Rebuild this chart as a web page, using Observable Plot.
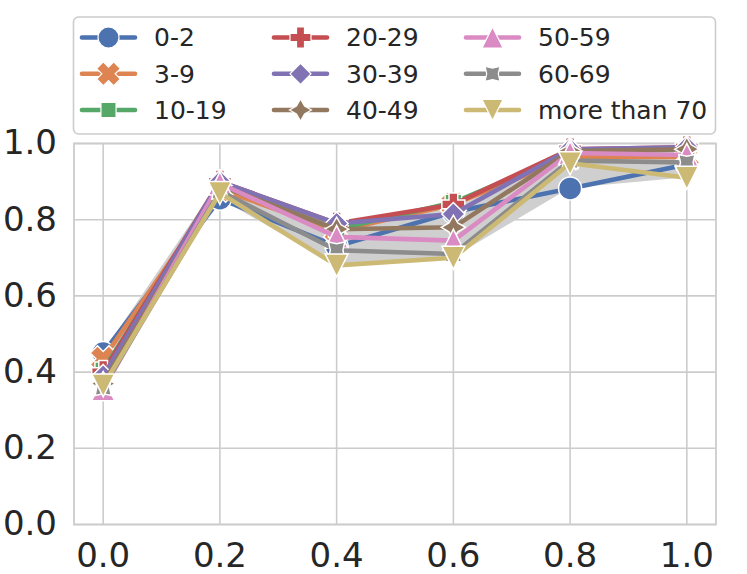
<!DOCTYPE html>
<html>
<head>
<meta charset="utf-8">
<script src="https://cdn.jsdelivr.net/npm/d3@7"></script>
<script src="https://cdn.jsdelivr.net/npm/@observablehq/plot@0.6"></script>
<style>
  html, body { margin: 0; padding: 0; background: #fff; }
  #chart { width: 747px; height: 574px; }
</style>
</head>
<body>
<div id="chart"></div>
<script>
// ---- data ----
const xValues = [0, 0.2, 0.4, 0.6, 0.8, 1.0];
const xTicks = [0, 0.2, 0.4, 0.6, 0.8, 1.0];
const yTicks = [0, 0.2, 0.4, 0.6, 0.8, 1.0];
const seriesLabels = ["0-2", "3-9", "10-19", "20-29", "30-39", "40-49", "50-59", "60-69", "more than 70"];
const seriesColors = ["#4C72B0", "#DD8452", "#55A868", "#C44E52", "#8172B3", "#937860", "#DA8BC3", "#8C8C8C", "#CCB974"];
const age0_2   = [0.450, 0.855, 0.730, 0.820, 0.882, 0.945];
const age3_9   = [0.435, 0.880, 0.770, 0.840, 0.965, 0.965];
const age10_19 = [0.405, 0.890, 0.775, 0.845, 0.975, 0.985];
const age20_29 = [0.400, 0.900, 0.790, 0.840, 0.985, 0.990];
const age30_39 = [0.390, 0.900, 0.790, 0.815, 0.985, 0.990];
const age40_49 = [0.370, 0.890, 0.775, 0.780, 0.980, 0.985];
const age50_59 = [0.355, 0.895, 0.755, 0.745, 0.975, 0.970];
const age60_69 = [0.360, 0.875, 0.720, 0.710, 0.955, 0.950];
const age70    = [0.365, 0.870, 0.680, 0.700, 0.948, 0.910];
const seriesValues = [age0_2, age3_9, age10_19, age20_29, age30_39, age40_49, age50_59, age60_69, age70];

// ---- custom marker shapes (seaborn default markers) ----
function poly(ctx, pts) {
  ctx.moveTo(pts[0][0], pts[0][1]);
  for (let i = 1; i < pts.length; i++) ctx.lineTo(pts[i][0], pts[i][1]);
  ctx.closePath();
}
const rad = (size) => Math.sqrt(size / Math.PI);
function plusPts(a, w) {
  return [[w,-a],[w,-w],[a,-w],[a,w],[w,w],[w,a],[-w,a],[-w,w],[-a,w],[-a,-w],[-w,-w],[-w,-a]];
}
function rot(pts, deg) {
  const t = deg * Math.PI / 180, c = Math.cos(t), s = Math.sin(t);
  return pts.map(([x, y]) => [x * c - y * s, x * s + y * c]);
}
function starPts(r, inner, offDeg) {
  const pts = [];
  for (let i = 0; i < 8; i++) {
    const rr = i % 2 === 0 ? r : r * inner;
    const t = (offDeg + i * 45 - 90) * Math.PI / 180;
    pts.push([rr * Math.cos(t), rr * Math.sin(t)]);
  }
  return pts;
}
const symX = { draw(ctx, size) { const r = rad(size); poly(ctx, rot(plusPts(r * 1.15, r * 0.45), 45)); } };
const symSquare = { draw(ctx, size) { const h = rad(size) * 0.72; poly(ctx, [[-h,-h],[h,-h],[h,h],[-h,h]]); } };
const symPlus = { draw(ctx, size) { const r = rad(size); poly(ctx, plusPts(r, r * 0.38)); } };
const symDiamond = { draw(ctx, size) { const r = rad(size); poly(ctx, [[0,-r],[r,0],[0,r],[-r,0]]); } };
const symStar = { draw(ctx, size) { const r = rad(size); poly(ctx, starPts(r * 1.05, 0.52, 0)); } };
const symTriUp = { draw(ctx, size) { const r = rad(size); poly(ctx, [[0,-r],[r,r],[-r,r]]); } };
const symStar45 = { draw(ctx, size) { const r = rad(size); poly(ctx, starPts(r * 1.0, 0.55, 45)); } };
const symTriDown = { draw(ctx, size) { const r = rad(size); poly(ctx, [[0,r],[r,-r],[-r,-r]]); } };
const seriesSymbols = [d3.symbolCircle, symX, symSquare, symPlus, symDiamond, symStar, symTriUp, symStar45, symTriDown];

// ---- tables ----
const rows = seriesLabels.map((label, i) => xValues.map((x, j) => ({ series: label, x, y: seriesValues[i][j] })));
const band = xValues.map((x, j) => ({
  x,
  lo: d3.min(seriesValues, (s) => s[j]),
  hi: d3.max(seriesValues, (s) => s[j])
}));

const gridColor = "#cccccc";
const markR = 11.5;

const chart = Plot.plot({
  width: 747,
  height: 574,
  marginLeft: 73.5,
  marginRight: 31.5,
  marginTop: 143,
  marginBottom: 50,
  style: { fontFamily: "'DejaVu Sans', sans-serif", fontSize: "34px", color: "#262626", background: "#fff" },
  x: { domain: [-0.05, 1.05], ticks: xTicks, label: null },
  y: { domain: [0, 1], ticks: yTicks, label: null },
  marks: [
    Plot.gridX(xTicks, { stroke: gridColor, strokeOpacity: 1, strokeWidth: 1.6 }),
    Plot.gridY(yTicks, { stroke: gridColor, strokeOpacity: 1, strokeWidth: 1.6 }),
    Plot.frame({ stroke: gridColor, strokeWidth: 1.8 }),
    Plot.areaY(band, { x: "x", y1: "lo", y2: "hi", fill: "#cfcfcf", fillOpacity: 1 }),
    ...rows.flatMap((data, i) => [
      Plot.line(data, { x: "x", y: "y", stroke: seriesColors[i], strokeWidth: 4.6 }),
      Plot.dot(data, { x: "x", y: "y", r: markR, symbol: seriesSymbols[i], fill: seriesColors[i], stroke: "#fff", strokeWidth: 1.5 })
    ]),
    Plot.axisX(xTicks, { tickSize: 0, tickPadding: 18, tickFormat: d3.format(".1f"), fontSize: 34, fill: "#262626", label: null }),
    Plot.axisY(yTicks, { tickSize: 0, tickPadding: 17, tickFormat: d3.format(".1f"), fontSize: 34, fill: "#262626", label: null })
  ]
});
document.getElementById("chart").appendChild(chart);

// ---- legend (drawn into the same SVG) ----
const svg = d3.select(chart.tagName.toLowerCase() === "svg" ? chart : chart.querySelector("svg"));
const lg = svg.append("g").attr("class", "legend").attr("text-anchor", "start");
lg.append("rect")
  .attr("x", 73.5).attr("y", 17).attr("width", 642).attr("height", 117)
  .attr("rx", 5).attr("ry", 5)
  .attr("fill", "#fff").attr("fill-opacity", 0.8)
  .attr("stroke", "#cccccc").attr("stroke-width", 1.6);
const colX = [82, 274, 466];
const rowY = [37.5, 73.8, 110];
seriesLabels.forEach((label, i) => {
  const col = Math.floor(i / 3), row = i % 3;
  const x0 = colX[col], y0 = rowY[row];
  const g = lg.append("g");
  g.append("line")
    .attr("x1", x0).attr("x2", x0 + 53).attr("y1", y0).attr("y2", y0)
    .attr("stroke", seriesColors[i]).attr("stroke-width", 4.6).attr("stroke-linecap", "round");
  g.append("path")
    .attr("transform", `translate(${x0 + 26.5},${y0})`)
    .attr("d", d3.symbol(seriesSymbols[i], Math.PI * 10.5 * 10.5)())
    .attr("fill", seriesColors[i]).attr("stroke", "#fff").attr("stroke-width", 1.2);
  g.append("text")
    .attr("x", x0 + 72).attr("y", y0).attr("dy", "0.35em")
    .attr("text-anchor", "start")
    .attr("font-family", "'DejaVu Sans', sans-serif").attr("font-size", 25)
    .attr("fill", "#262626").text(label);
});
</script>
</body>
</html>
